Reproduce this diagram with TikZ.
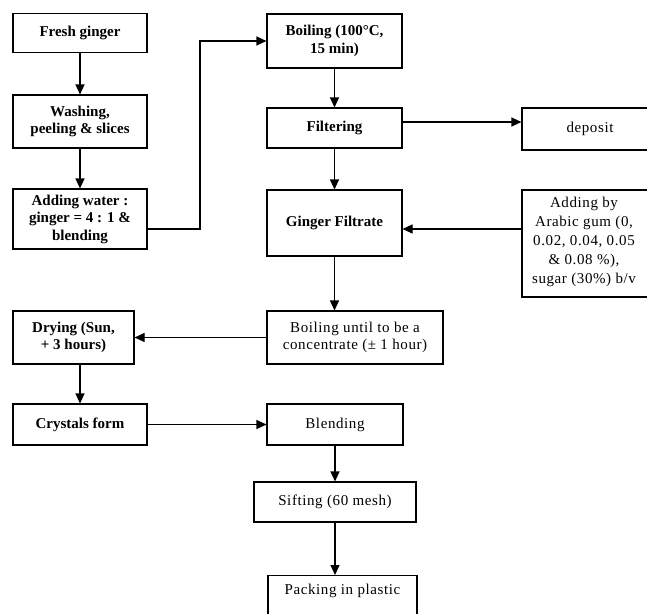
\documentclass[tikz,border=0pt]{standalone}
\usepackage{fontspec}
\setmainfont{Liberation Serif}
\newfontfamily\regfont[LetterSpace=4]{Liberation Serif}
\usetikzlibrary{arrows.meta}
\begin{document}
\begin{tikzpicture}[x=1pt,y=-1pt,
  box/.style={draw, line width=1.1pt, align=center, inner sep=2pt, font=\fontsize{15}{17.5}\selectfont\regfont},
  bbox/.style={box, font=\fontsize{15}{17.5}\selectfont\bfseries},
  arr/.style={line width=1.1pt, -{Triangle[length=10pt,width=9pt]}}]
\useasboundingbox (0,0) rectangle (647,613);
% left column
\node[bbox, minimum width=134pt, minimum height=39pt] (fresh) at (80,33) {Fresh ginger};
\node[bbox, minimum width=134pt, minimum height=53pt] (wash) at (80,121.5) {Washing,\\peeling \& slices};
\node[bbox, minimum width=134pt, minimum height=60pt] (addw) at (80,219) {Adding water :\\ginger = 4 : 1 \&\\blending};
\node[bbox, minimum width=121pt, minimum height=53pt] (drying) at (73.5,337.5) {Drying (Sun,\\+ 3 hours)};
\node[bbox, minimum width=134pt, minimum height=41pt] (crystals) at (80,424.5) {Crystals form};
% middle column
\node[bbox, minimum width=135pt, minimum height=54pt] (boil1) at (334.5,41) {Boiling (100°C,\\15 min)};
\node[bbox, minimum width=135pt, minimum height=40pt] (filt) at (334.5,128) {Filtering};
\node[bbox, minimum width=135pt, minimum height=66pt] (gfilt) at (334.5,223) {Ginger Filtrate};
\node[box, minimum width=176pt, minimum height=53pt] (boilu) at (355,337.5) {Boiling until to be a\\concentrate (± 1 hour)};
\node[box, minimum width=136pt, minimum height=41pt] (blend) at (335,424.5) {Blending};
\node[box, minimum width=162pt, minimum height=40pt] (sift) at (335,502) {Sifting (60 mesh)};
\node[box, minimum width=149pt, minimum height=50pt, anchor=north] (pack) at (342.5,575) {};
\node[font=\fontsize{15}{17.5}\selectfont\regfont] (packt) at (342.5,591) {Packing in plastic};
% right column
\node[box, minimum width=136pt, minimum height=42pt] (deposit) at (590,129) {deposit};
\node[box, minimum width=140pt, minimum height=107pt] (adding) at (592,243.5) {};
\node[align=center, font=\fontsize{15}{19}\selectfont\regfont] (addingt) at (584,242) {Adding by\\Arabic gum (0,\\0.02, 0.04, 0.05\\\& 0.08 \%),\\sugar (30\%) b/v};
% connectors
\coordinate (k1) at (200,229);
\coordinate (ydep) at (0,122);
\coordinate (yadd) at (0,229);
\draw[arr] (fresh) -- (wash);
\draw[arr] (wash) -- (addw);
\draw[arr] (addw.east |- k1) -- (k1) |- (boil1.west);
\draw[arr] (boil1) -- (filt);
\draw[arr] (filt.east |- ydep) -- (deposit.west |- ydep);
\draw[arr] (filt) -- (gfilt);
\draw[arr] (adding.west |- yadd) -- (gfilt.east |- yadd);
\draw[arr] (gfilt.south) -- (gfilt.south |- boilu.north);
\draw[arr] (boilu.west) -- (drying.east);
\draw[arr] (crystals.north |- drying.south) -- (crystals.north);
\draw[arr] (crystals) -- (blend);
\draw[arr] (blend) -- (sift);
\draw[arr] (sift.south) -- (sift.south |- pack.north);
\end{tikzpicture}
\end{document}
